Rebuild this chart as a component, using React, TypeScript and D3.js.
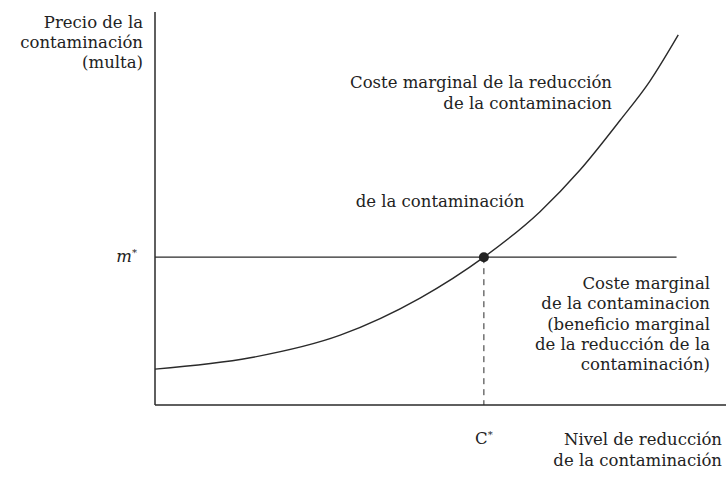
import React from "react";
import * as d3 from "d3";

// Data (abstract units)
const curveX = [0, 1.67, 3.25, 4.65, 5.77, 6.75, 7.46, 8.16, 8.68, 9.18];
const curveY = [0.92, 1.21, 1.79, 2.74, 3.79, 4.95, 6.03, 7.3, 8.3, 9.49];
const mStar = 3.79;
const cStar = 5.77;
const mLineEnd = 9.15;

const yAxisLabel = ["Precio de la", "contaminación", "(multa)"];
const topCurveLabel = ["Coste marginal de la reducción", "de la contaminacion"];
const midLabel = ["de la contaminación"];
const rightLabel = [
  "Coste marginal",
  "de la contaminacion",
  "(beneficio marginal",
  "de la reducción de la",
  "contaminación)",
];
const xAxisLabel = ["Nivel de reducción", "de la contaminación"];

const W = 726;
const H = 490;
const FONT = "'DejaVu Serif', serif";

export default function App() {
  const x = d3.scaleLinear().domain([0, 10]).range([155, 725]);
  const y = d3.scaleLinear().domain([0, 10]).range([405, 15]);
  const pts: [number, number][] = curveX.map((v, i) => [v, curveY[i]]);
  const line = d3
    .line<[number, number]>()
    .x((d) => x(d[0]))
    .y((d) => y(d[1]))
    .curve(d3.curveMonotoneX);

  const ink = "#2a2a2a";
  const fs = 16.5;

  return (
    <svg
      width={W}
      height={H}
      style={{ position: "absolute", left: 0, top: 0, background: "#fff" }}
      fontFamily={FONT}
    >
      <rect width={W} height={H} fill="#fff" />
      {/* axes */}
      <line x1={x(0)} y1={12} x2={x(0)} y2={y(0)} stroke={ink} strokeWidth={1.5} />
      <line x1={x(0)} y1={y(0)} x2={W} y2={y(0)} stroke={ink} strokeWidth={1.4} />
      {/* m* line */}
      <line x1={x(0)} y1={y(mStar)} x2={x(mLineEnd)} y2={y(mStar)} stroke={ink} strokeWidth={1.3} />
      {/* C* dashed */}
      <line
        x1={x(cStar)}
        y1={y(mStar)}
        x2={x(cStar)}
        y2={y(0)}
        stroke={ink}
        strokeWidth={1}
        strokeDasharray="6,5"
      />
      {/* curve */}
      <path d={line(pts) || ""} fill="none" stroke={ink} strokeWidth={1.4} />
      <circle cx={x(cStar)} cy={y(mStar)} r={5} fill="#222" />

      {/* y axis label */}
      <g fontSize={fs} fill="#222" textAnchor="end">
        {yAxisLabel.map((t, i) => (
          <text key={i} x={143} y={28 + i * 20}>
            {t}
          </text>
        ))}
      </g>
      <text x={137} y={y(mStar) + 5} fontSize={fs} fontStyle="italic" textAnchor="end" fill="#222">
        m
        <tspan dy={-6} fontSize={10}>*</tspan>
      </text>

      <g fontSize={fs} fill="#222" textAnchor="end">
        {topCurveLabel.map((t, i) => (
          <text key={i} x={612} y={88 + i * 21}>
            {t}
          </text>
        ))}
      </g>
      <g fontSize={fs} fill="#222" textAnchor="middle">
        {midLabel.map((t, i) => (
          <text key={i} x={440} y={207}>
            {t}
          </text>
        ))}
      </g>
      <g fontSize={fs} fill="#222" textAnchor="end">
        {rightLabel.map((t, i) => (
          <text key={i} x={710} y={289 + i * 20.3}>
            {t}
          </text>
        ))}
      </g>
      <text x={x(cStar)} y={444} fontSize={fs} textAnchor="middle" fill="#222">
        C
        <tspan dy={-6} fontSize={10}>*</tspan>
      </text>
      <g fontSize={fs} fill="#222" textAnchor="end">
        {xAxisLabel.map((t, i) => (
          <text key={i} x={722} y={445 + i * 21}>
            {t}
          </text>
        ))}
      </g>
    </svg>
  );
}
